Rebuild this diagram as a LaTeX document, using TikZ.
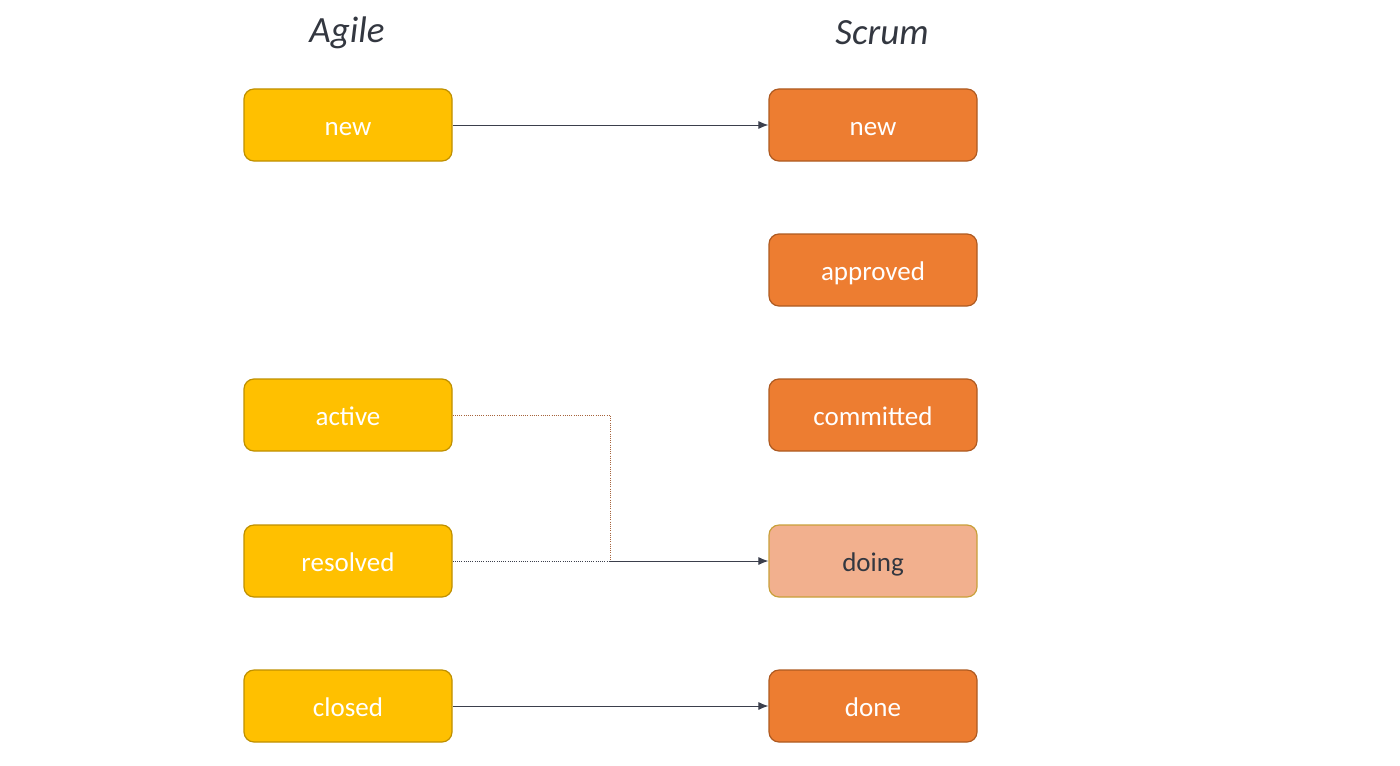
\documentclass[tikz,border=0pt]{standalone}
\usepackage{fontspec}
\setmainfont{Carlito}
\usetikzlibrary{arrows.meta}

\definecolor{agilefill}{HTML}{FFC000}
\definecolor{agileline}{HTML}{BF9000}
\definecolor{scrumfill}{HTML}{ED7D31}
\definecolor{scrumline}{HTML}{AE5A21}
\definecolor{doingfill}{HTML}{F2B08E}
\definecolor{doingline}{HTML}{C9A03A}
\definecolor{linkgray}{HTML}{3B3F4C}
\definecolor{headgray}{HTML}{333740}

\tikzset{
  state/.style={rectangle,rounded corners=5pt,minimum width=104pt,minimum height=36pt,
    line width=0.6pt,font=\fontsize{13.5}{15}\selectfont,text=white,
    text height=12pt,text depth=1.6pt},
  agile/.style={state,fill=agilefill,draw=agileline},
  scrum/.style={state,fill=scrumfill,draw=scrumline},
  head/.style={font=\fontsize{18.5}{20}\selectfont\itshape,text=headgray},
  link/.style={draw=linkgray,line width=0.5pt,-{Latex[length=5pt,width=4pt]}},
  dots/.style={line width=0.5pt,dash pattern=on 0.5pt off 0.6pt}
}

\begin{document}
\begin{tikzpicture}[x=0.5pt,y=-0.5pt]

      \useasboundingbox (0,0) rectangle (1400,765);

      % Headings
      \node[head] (agilehead) at (347,33) {Agile};
      \node[head] (scrumhead) at (882,33) {Scrum};

      % Nodes
      \node[agile] (anew) at (348,125) {new};
      \node[agile] (aactive) at (348,415) {active};
      \node[agile] (aresolved) at (348,561) {resolved};
      \node[agile] (aclosed) at (348,706) {closed};

      \node[scrum] (snew) at (873,125) {new};
      \node[scrum] (sapproved) at (873,270) {approved};
      \node[scrum] (scommitted) at (873,415) {committed};
      \node[scrum,fill=doingfill,draw=doingline,text=headgray] (sdoing) at (873,561) {doing};
      \node[scrum] (sdone) at (873,706) {done};

      \coordinate (join) at (610,561);

      % Edges
      \path[link] (anew) -- (snew);
      \path[link] (aclosed) -- (sdone);
      \draw[dots,draw=linkgray] (aresolved) -- (join);
      \draw[dots,draw=scrumfill!60!linkgray] (aactive) -| (join);
      \path[link] (join) -- (sdoing);

    \end{tikzpicture}
\end{document}
